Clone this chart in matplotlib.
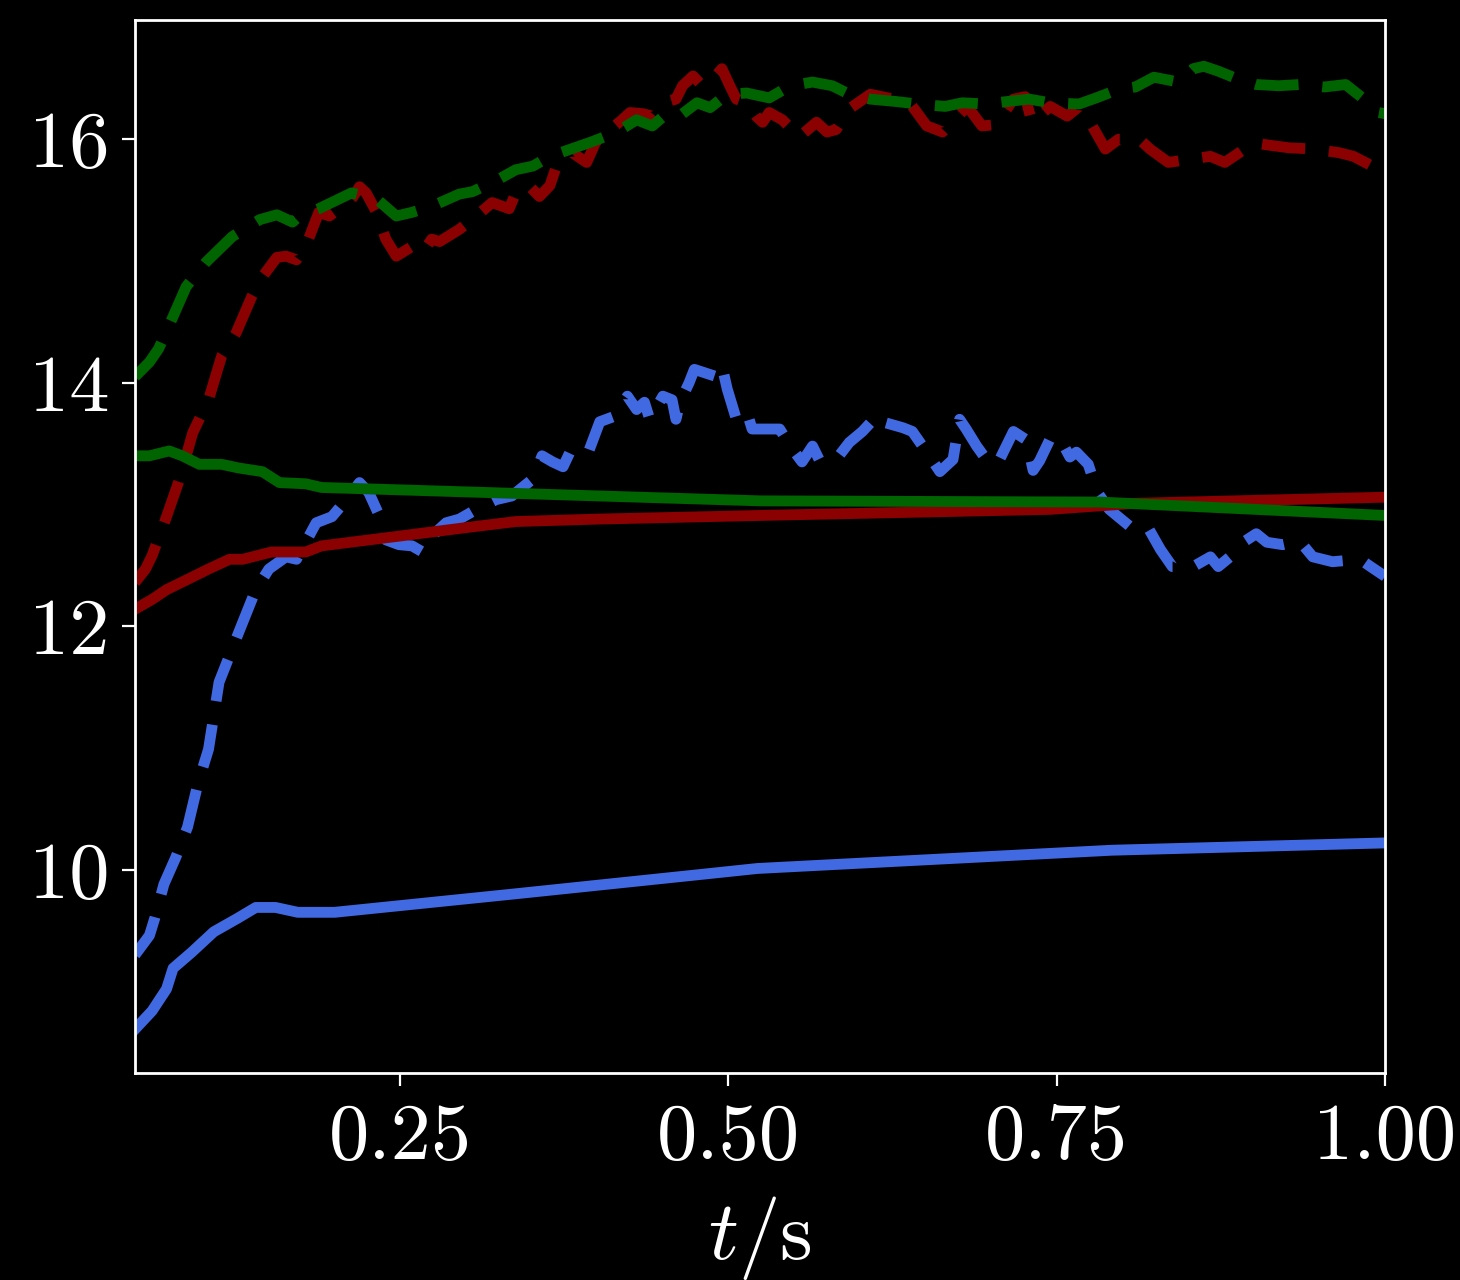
import matplotlib
matplotlib.use("Agg")
import matplotlib.pyplot as plt

plt.rcParams.update({
    "font.family": "serif",
    "font.serif": ["cmr10"],
    "mathtext.fontset": "cm",
    "axes.unicode_minus": False,
    "axes.formatter.use_mathtext": True,
})

# ---- data ----
t_blue_solid = [0.048, 0.061, 0.072, 0.077, 0.091, 0.108, 0.126, 0.140, 0.155, 0.172, 0.200,
                0.336, 0.478, 0.522, 0.792, 1.000]
y_blue_solid = [8.69, 8.84, 9.02, 9.19, 9.32, 9.49, 9.60, 9.69, 9.69, 9.65, 9.65,
                9.80, 9.96, 10.01, 10.16, 10.22]

t_red_solid = [0.048, 0.061, 0.072, 0.089, 0.104, 0.120, 0.130, 0.152, 0.178, 0.190, 0.249,
               0.300, 0.338, 0.400, 0.524, 0.745, 0.810, 1.000]
y_red_solid = [12.14, 12.22, 12.30, 12.39, 12.47, 12.55, 12.55, 12.61, 12.61, 12.66, 12.74,
               12.81, 12.86, 12.88, 12.91, 12.96, 13.01, 13.06]

t_green_solid = [0.048, 0.059, 0.074, 0.084, 0.097, 0.114, 0.127, 0.145, 0.158, 0.178, 0.190,
                 0.402, 0.524, 0.783, 1.000]
y_green_solid = [13.40, 13.40, 13.44, 13.40, 13.33, 13.33, 13.30, 13.27, 13.18, 13.17, 13.14,
                 13.07, 13.03, 13.02, 12.91]

t_blue_dash = [0.048, 0.059, 0.063, 0.070, 0.079, 0.088, 0.096, 0.104, 0.112, 0.127,
               0.140, 0.150, 0.163, 0.171, 0.178, 0.186, 0.198, 0.209, 0.219, 0.226,
               0.234, 0.239, 0.249, 0.259, 0.267, 0.274, 0.285, 0.295, 0.308, 0.323,
               0.335, 0.351, 0.358, 0.366, 0.374, 0.381, 0.394, 0.402, 0.412, 0.423,
               0.430, 0.436, 0.440, 0.450, 0.457, 0.460, 0.463, 0.470, 0.474, 0.491,
               0.495, 0.499, 0.506, 0.514, 0.518, 0.529, 0.539, 0.547, 0.556, 0.564,
               0.569, 0.582, 0.592, 0.602, 0.614, 0.620, 0.633, 0.640, 0.651, 0.661,
               0.671, 0.676, 0.681, 0.689, 0.699, 0.707, 0.717, 0.727, 0.732, 0.737,
               0.745, 0.752, 0.760, 0.765, 0.774, 0.781, 0.790, 0.808, 0.819, 0.829,
               0.838, 0.854, 0.867, 0.873, 0.882, 0.892, 0.902, 0.910, 0.922, 0.935,
               0.945, 0.960, 0.981, 0.989, 1.000]
y_blue_dash = [9.30, 9.46, 9.60, 9.88, 10.10, 10.35, 10.71, 10.99, 11.54, 11.95,
               12.30, 12.47, 12.57, 12.55, 12.69, 12.85, 12.90, 13.04, 13.18, 13.10,
               12.91, 12.71, 12.67, 12.66, 12.61, 12.74, 12.85, 12.88, 12.96, 13.04,
               13.07, 13.21, 13.40, 13.35, 13.31, 13.47, 13.45, 13.68, 13.72, 13.89,
               13.78, 13.84, 13.70, 13.89, 13.86, 13.70, 13.84, 14.00, 14.11, 14.05,
               14.14, 13.95, 13.70, 13.76, 13.62, 13.62, 13.62, 13.48, 13.35, 13.48,
               13.37, 13.37, 13.51, 13.60, 13.74, 13.67, 13.63, 13.60, 13.43, 13.27,
               13.37, 13.70, 13.62, 13.48, 13.33, 13.38, 13.60, 13.53, 13.28, 13.36,
               13.54, 13.55, 13.39, 13.43, 13.33, 13.10, 12.96, 12.80, 12.82, 12.63,
               12.49, 12.49, 12.57, 12.49, 12.57, 12.69, 12.76, 12.69, 12.67, 12.70,
               12.57, 12.53, 12.55, 12.49, 12.41]

t_red_dash = [0.048, 0.056, 0.061, 0.072, 0.082, 0.092, 0.104, 0.114, 0.125, 0.137,
              0.145, 0.156, 0.163, 0.171, 0.178, 0.183, 0.188, 0.196, 0.201, 0.209,
              0.213, 0.219, 0.224, 0.232, 0.239, 0.247, 0.259, 0.267, 0.274, 0.280,
              0.295, 0.308, 0.320, 0.333, 0.338, 0.348, 0.356, 0.364, 0.369, 0.374,
              0.381, 0.392, 0.399, 0.419, 0.425, 0.435, 0.442, 0.450, 0.460, 0.465,
              0.473, 0.480, 0.488, 0.495, 0.501, 0.506, 0.514, 0.521, 0.526, 0.531,
              0.541, 0.554, 0.567, 0.575, 0.582, 0.592, 0.608, 0.617, 0.638, 0.651,
              0.663, 0.672, 0.682, 0.693, 0.704, 0.717, 0.726, 0.731, 0.745, 0.758,
              0.767, 0.777, 0.787, 0.797, 0.813, 0.821, 0.835, 0.854, 0.867, 0.878,
              0.900, 0.913, 0.927, 0.946, 0.965, 0.976, 0.992, 1.000]
y_red_dash = [12.36, 12.47, 12.58, 12.90, 13.21, 13.59, 13.86, 14.22, 14.41, 14.71,
              14.87, 15.03, 15.04, 15.01, 15.12, 15.26, 15.40, 15.37, 15.41, 15.45,
              15.51, 15.61, 15.56, 15.40, 15.18, 15.04, 15.12, 15.07, 15.18, 15.16,
              15.26, 15.37, 15.48, 15.43, 15.56, 15.62, 15.53, 15.62, 15.78, 15.81,
              15.89, 15.81, 15.98, 16.16, 16.22, 16.21, 16.19, 16.30, 16.33, 16.44,
              16.52, 16.44, 16.49, 16.58, 16.44, 16.33, 16.30, 16.19, 16.14, 16.22,
              16.16, 16.02, 16.14, 16.06, 16.08, 16.25, 16.37, 16.35, 16.30, 16.11,
              16.06, 16.16, 16.27, 16.11, 16.12, 16.33, 16.35, 16.14, 16.27, 16.19,
              16.27, 16.11, 15.92, 16.00, 16.00, 15.92, 15.81, 15.84, 15.86, 15.81,
              15.97, 15.95, 15.93, 15.92, 15.89, 15.86, 15.77, 15.72]

t_green_dash = [0.048, 0.059, 0.066, 0.076, 0.087, 0.102, 0.122, 0.143, 0.156, 0.168,
                0.173, 0.188, 0.213, 0.232, 0.247, 0.259, 0.274, 0.295, 0.305, 0.323,
                0.338, 0.351, 0.364, 0.396, 0.415, 0.430, 0.442, 0.455, 0.465, 0.476,
                0.486, 0.499, 0.514, 0.531, 0.547, 0.564, 0.579, 0.592, 0.608, 0.628,
                0.644, 0.665, 0.678, 0.696, 0.712, 0.729, 0.745, 0.767, 0.780, 0.797,
                0.810, 0.824, 0.843, 0.854, 0.862, 0.873, 0.889, 0.902, 0.919, 0.935,
                0.954, 0.970, 0.984, 0.995, 1.000]
y_green_dash = [14.05, 14.17, 14.28, 14.52, 14.79, 14.99, 15.20, 15.34, 15.38, 15.32,
                15.37, 15.43, 15.56, 15.51, 15.37, 15.40, 15.45, 15.55, 15.57, 15.66,
                15.75, 15.78, 15.86, 15.98, 16.06, 16.16, 16.11, 16.23, 16.21, 16.30,
                16.26, 16.37, 16.38, 16.34, 16.44, 16.47, 16.44, 16.37, 16.33, 16.31,
                16.29, 16.27, 16.30, 16.29, 16.31, 16.33, 16.30, 16.29, 16.34, 16.41,
                16.43, 16.51, 16.47, 16.58, 16.60, 16.56, 16.49, 16.45, 16.44, 16.45,
                16.43, 16.45, 16.33, 16.22, 16.21]

x_ticks = [0.25, 0.50, 0.75, 1.00]
x_ticklabels = ["0.25", "0.50", "0.75", "1.00"]
y_ticks = [10, 12, 14, 16]
y_ticklabels = ["10", "12", "14", "16"]

BLUE = "#4169E1"
RED = "#8B0000"
GREEN = "#006400"
LW = 7.8
DASH = (4.0, 2.2)
FS = 58

fig = plt.figure(figsize=(14.6, 12.8), dpi=100, facecolor="black")
ax = fig.add_axes([135 / 1460, 1 - 1073 / 1280, 1250 / 1460, (1073 - 20) / 1280])
ax.set_facecolor("black")

ax.plot(t_blue_dash, y_blue_dash, color=BLUE, lw=LW, ls="--", dashes=DASH)
ax.plot(t_blue_solid, y_blue_solid, color=BLUE, lw=LW, ls="-")
ax.plot(t_red_dash, y_red_dash, color=RED, lw=LW, ls="--", dashes=DASH)
ax.plot(t_red_solid, y_red_solid, color=RED, lw=LW, ls="-")
ax.plot(t_green_dash, y_green_dash, color=GREEN, lw=LW, ls="--", dashes=DASH)
ax.plot(t_green_solid, y_green_solid, color=GREEN, lw=LW, ls="-")

ax.set_xlim(0.048, 1.0)
ax.set_ylim(8.33, 16.98)
ax.set_xticks(x_ticks)
ax.set_xticklabels(x_ticklabels)
ax.set_yticks(y_ticks)
ax.set_yticklabels(y_ticklabels)

for sp in ax.spines.values():
    sp.set_color("white")
    sp.set_linewidth(2.0)
ax.tick_params(colors="white", labelsize=FS, length=9.5, width=1.6)
ax.tick_params(axis="x", pad=12)
ax.tick_params(axis="y", pad=9)
ax.set_xlabel(r"$t/\mathrm{s}$", color="white", fontsize=FS + 2, labelpad=14)

fig.savefig("out.png", dpi=100, facecolor="black")
